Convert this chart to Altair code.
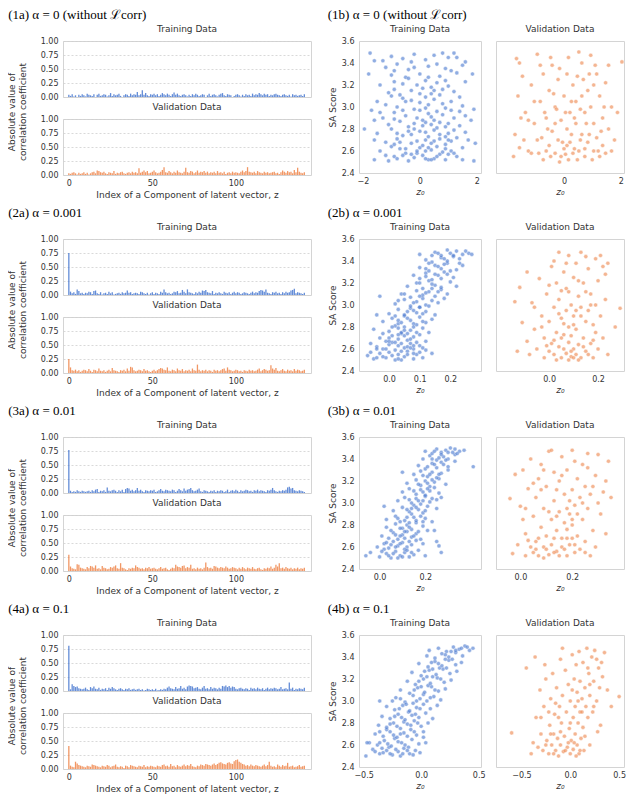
import altair as alt
import pandas as pd

BLUE = "#4878d0"
ORANGE = "#ee854a"
TXT = "#333333"

ROW_TITLES_A = ["(1a) α = 0 (without ℒcorr)", "(2a) α = 0.001", "(3a) α = 0.01", "(4a) α = 0.1"]
ROW_TITLES_B = ["(1b) α = 0 (without ℒcorr)", "(2b) α = 0.001", "(3b) α = 0.01", "(4b) α = 0.1"]

BAR_TICKS = [0, 50, 100]
Y_BAR_TICKS = [0, 0.25, 0.5, 0.75, 1.0]
Y_SA_TICKS = [2.4, 2.6, 2.8, 3.0, 3.2, 3.4, 3.6]

X_DOM_TRAIN = [[-2.14, 2.15], [-0.098, 0.30], [-0.09, 0.444], [-0.54, 0.52]]
X_DOM_VAL = [[-2.29, 2.02], [-0.217, 0.306], [-0.094, 0.40], [-0.76, 0.55]]
X_TICKS_TRAIN = [[-2, 0, 2], [0, 0.1, 0.2], [0, 0.2], [-0.5, 0, 0.5]]
X_TICKS_VAL = [[0, 2], [0, 0.2], [0, 0.2], [-0.5, 0, 0.5]]
X_FMT = ["d", ".1f", ".1f", ".1f"]

# |corr| in hundredths, component index 0..141
BAR_T1 = [4,2,5,1,3,0,4,2,5,3, 1,6,4,3,2,5,0,4,6,2, 3,5,4,1,3,7,2,5,3,4, 6,2,0,3,5,4,2,6,3,5,
          4,9,3,5,12,4,7,3,2,5, 4,6,3,5,2,4,7,5,3,6, 4,2,5,8,4,6,3,2,4,5, 3,1,4,2,5,3,6,4,2,3,
          5,4,0,3,6,2,4,5,3,1, 4,6,7,3,2,5,4,3,0,2, 4,5,3,1,4,2,5,3,4,2, 6,3,5,4,7,5,3,6,4,5,
          2,4,3,5,6,4,3,2,4,5, 3,2,4,1,5,3,4,2,3,4,2,5]
BAR_V1 = [3,2,4,5,3,1,4,2,3,5, 2,4,1,3,5,6,3,8,7,5, 4,6,3,2,5,4,3,7,2,4, 3,5,6,3,2,4,5,3,6,4,
          5,3,12,4,6,8,5,7,3,4, 6,8,5,3,4,6,9,14,5,4, 7,5,3,6,4,8,5,4,3,6, 13,5,4,7,6,3,5,8,4,6,
          5,7,4,6,3,5,4,6,3,7, 4,5,3,6,2,4,5,3,6,4, 5,4,3,6,8,5,7,14,6,5, 4,6,3,7,5,4,3,6,4,5,
          3,4,5,6,3,4,2,5,8,6, 4,7,5,6,3,9,5,13,6,4, 3,5]
BAR_T2 = [75,6,3,5,2,10,7,3,4,2, 4,3,6,5,2,7,8,3,2,5, 1,3,4,2,6,3,5,1,2,3, 4,2,5,3,4,8,4,5,2,3,
          4,3,2,6,5,3,2,4,1,3, 5,2,4,3,2,6,4,10,5,3, 4,2,3,6,5,7,3,4,9,6, 3,10,5,4,3,2,5,3,6,4,
          8,7,9,5,4,3,7,2,4,3, 5,3,2,6,4,3,5,2,4,6, 3,5,4,2,3,5,4,3,2,4, 6,3,5,4,7,9,8,6,10,4,
          3,2,5,4,6,3,4,2,5,3, 6,4,5,8,9,11,3,5,4,3, 2,4]
BAR_V2 = [25,10,5,4,6,3,5,2,4,6, 5,3,7,4,2,6,5,3,8,4, 3,5,2,4,6,3,9,5,4,3, 2,5,4,6,3,8,4,11,10,5,
          3,4,6,5,3,7,4,5,3,2, 4,6,3,5,7,9,8,6,5,10, 4,3,6,5,3,8,5,4,7,3, 5,4,6,3,8,5,4,15,6,3,
          5,4,6,3,5,4,2,6,4,5, 3,5,7,8,4,10,6,5,3,4, 6,5,3,4,2,5,4,3,6,4, 5,3,4,6,8,3,5,7,6,4,
          5,14,8,6,9,4,3,5,7,4, 3,6,4,5,3,7,4,6,5,3, 4,6]
BAR_T3 = [77,4,2,3,2,5,3,2,4,3, 2,3,4,2,5,3,6,7,2,4, 3,5,2,10,4,3,5,6,4,2, 5,3,6,2,7,9,8,4,6,3,
          5,9,4,6,3,2,5,4,3,5, 4,6,2,3,5,7,4,3,6,5, 4,3,6,5,2,4,7,5,3,8, 4,6,7,9,5,3,4,6,8,3,
          2,5,4,3,2,4,3,5,2,4, 3,5,4,2,3,6,2,4,5,3, 6,4,2,5,3,4,6,5,3,4, 2,5,4,6,3,5,4,3,2,5,
          4,6,9,5,3,2,4,3,5,4, 6,10,11,8,9,5,4,3,5,4, 3,2]
BAR_V3 = [29,8,5,4,3,12,11,6,5,4, 3,7,5,9,8,6,10,4,5,3, 9,6,5,3,4,7,6,8,10,5, 4,14,6,5,3,2,5,4,6,5,
          10,7,6,4,5,3,6,5,7,4, 5,6,4,3,5,7,4,5,6,3, 2,4,6,5,11,8,7,6,9,10, 5,7,6,11,4,5,3,6,4,5,
          3,6,15,7,5,6,4,9,8,6, 5,7,6,5,8,6,4,5,7,6, 5,3,6,4,7,5,3,6,5,4, 7,4,3,5,6,3,2,5,4,6,
          5,8,4,6,11,8,14,5,6,4, 7,5,4,6,3,5,4,6,3,5, 4,6]
BAR_T4 = [81,3,12,9,7,8,5,4,3,4, 6,3,2,7,5,8,4,3,6,2, 4,3,5,2,6,4,7,5,3,2, 4,5,3,2,4,3,5,2,3,4,
          2,3,4,2,3,1,2,4,3,2, 3,2,4,1,2,3,2,4,3,6, 8,5,4,3,7,4,5,9,4,6, 3,8,10,9,8,5,6,7,4,3,
          6,9,4,5,3,7,4,6,5,3, 6,4,9,8,10,7,9,6,8,7, 4,3,5,6,4,3,5,4,2,6, 4,5,3,6,4,3,5,2,4,6,
          3,5,4,6,5,3,4,7,3,4, 5,3,15,4,6,2,4,3,5,4, 3,6]
BAR_V4 = [41,6,4,3,13,10,7,6,5,4, 3,6,5,4,8,7,6,5,4,3, 6,5,4,7,6,3,5,6,8,4, 3,5,4,2,6,5,3,7,6,5,
          4,3,6,5,4,7,3,5,4,6, 5,4,3,6,5,4,7,8,5,6, 4,9,5,6,3,7,5,4,6,8, 5,7,6,9,5,4,3,6,5,8,
          7,6,9,8,7,6,8,10,7,9, 11,12,10,9,8,11,12,10,9,14, 16,17,13,11,9,8,6,7,5,8, 6,5,7,6,5,4,6,8,5,7,
          13,6,4,5,3,8,6,4,7,5, 6,11,4,5,6,3,4,5,7,4, 5,6]

# (z0, SA score) pairs
TRAIN1 = [(-1.6,2.52),(-0.9,2.55),(-0.4,2.51),(0.1,2.56),(0.5,2.53),(0.9,2.52),(1.3,2.55),(-0.2,2.54),(0.7,2.57),(1.9,2.51),(-1.1,2.51),(0.3,2.52),
          (-1.4,2.6),(-0.7,2.62),(-0.1,2.58),(0.4,2.61),(1.1,2.6),(1.5,2.63),(-1.0,2.64),(0.0,2.63),(0.8,2.59),(-0.5,2.58),(0.6,2.64),
          (-1.2,2.68),(-0.3,2.67),(0.2,2.7),(0.9,2.66),(1.95,2.67),(-0.8,2.71),(0.5,2.69),(1.3,2.72),(-1.6,2.7),(0.1,2.65),
          (-1.5,2.76),(-0.6,2.74),(0.0,2.78),(0.7,2.75),(1.2,2.79),(-1.0,2.8),(0.3,2.73),(1.6,2.77),(-0.2,2.8),(0.9,2.73),
          (-1.95,2.8),(-1.1,2.84),(-0.4,2.82),(0.2,2.86),(0.6,2.81),(1.0,2.85),(1.4,2.83),(-0.7,2.87),(0.4,2.84),(1.8,2.88),
          (-1.3,2.9),(-0.5,2.92),(0.1,2.88),(0.8,2.93),(1.2,2.9),(-0.9,2.95),(0.3,2.94),(1.6,2.92),(-0.1,2.9),
          (-1.7,2.97),(-0.8,3.0),(-0.2,2.98),(0.3,3.02),(0.9,2.99),(1.5,3.01),(-1.2,3.02),(0.6,2.96),(1.9,2.98),
          (-1.5,3.05),(-0.6,3.08),(0.0,3.04),(0.5,3.07),(1.1,3.05),(-1.0,3.1),(0.2,3.09),(1.4,3.09),
          (-1.1,3.13),(-0.3,3.15),(0.4,3.12),(0.8,3.16),(-0.7,3.11),(1.2,3.14),(0.1,3.17),
          (-1.4,3.2),(-0.9,3.23),(-0.1,3.2),(0.6,3.22),(1.0,3.19),(1.6,3.23),(0.2,3.24),
          (-1.8,3.3),(-0.5,3.27),(0.0,3.3),(0.7,3.28),(1.3,3.31),(-1.0,3.29),(1.85,3.3),
          (-1.2,3.36),(-0.4,3.34),(0.3,3.37),(0.9,3.35),(1.5,3.38),(-0.8,3.39),(1.1,3.33),
          (-1.75,3.49),(-1.6,3.42),(-1.0,3.46),(-0.6,3.44),(-0.2,3.48),(0.2,3.43),(0.5,3.47),(1.0,3.45),(1.2,3.49),(1.6,3.41),(-0.3,3.41),(0.8,3.49),
          (-0.6,2.56),(0.2,2.6),(-0.3,2.75),(0.5,2.88),(-0.5,3.05),(1.7,2.7),(-1.4,2.95),(0.4,2.52),(1.2,2.58),(-0.9,2.66),
          (0.0,2.97),(0.7,3.11),(-1.3,3.42),(1.4,2.96),(-0.1,2.6),(0.9,2.82),(-0.4,3.26),(0.4,3.18),(-1.6,2.88),(1.1,2.69),
          (-0.8,2.53),(-0.3,2.57),(0.2,2.53),(0.6,2.55),(1.0,2.57),(-0.5,2.62),(0.3,2.63),(0.9,2.62),(-1.2,2.56),(1.5,2.52),
          (-0.7,2.68),(-0.1,2.69),(0.4,2.67),(0.7,2.71),(1.0,2.7),(-0.4,2.78),(0.2,2.77),(0.5,2.79),(-0.8,2.76),(1.0,2.76),
          (-0.2,2.85),(0.1,2.83),(0.7,2.86),(-0.9,2.89),(0.4,2.91),(-0.6,2.97),(0.2,2.99),(1.1,2.97),(-0.3,3.06),(0.8,3.03),
          (-0.9,3.16),(0.0,3.12),(0.5,3.15),(-0.6,3.21),(0.3,3.27),(0.9,3.24),(-0.2,3.36),(0.6,3.39),(-0.9,3.33),(1.3,3.45)]
VAL1 = [(-1.6,3.44),(-1.5,3.4),(-1.4,3.28),(-1.55,3.1),(-1.65,2.75),(-1.7,2.55),(-1.5,2.63),(-1.3,2.95),(-1.2,2.6),(-1.1,3.2),
        (-1.0,2.85),(-0.9,3.48),(-0.9,2.7),(-0.8,3.05),(-0.7,2.52),(-0.7,3.3),(-0.6,2.9),(-0.5,2.65),(-0.5,3.15),(-0.4,2.78),
        (-0.4,3.38),(-0.3,2.58),(-0.3,3.0),(-0.2,2.7),(-0.2,3.25),(-0.1,2.55),(-0.1,2.88),(0.0,3.1),(0.0,2.62),(0.1,2.8),
        (0.1,3.3),(0.15,2.52),(0.2,2.95),(0.2,2.68),(0.3,3.2),(0.3,2.58),(0.4,2.85),(0.4,3.05),(0.5,3.5),(0.5,2.6),
        (0.6,2.75),(0.6,3.4),(0.7,2.95),(0.7,2.55),(0.8,3.15),(0.8,2.68),(0.9,3.0),(0.9,3.47),(1.0,2.6),(1.0,2.85),
        (1.1,3.3),(1.1,2.72),(1.2,2.55),(1.2,3.1),(1.3,2.9),(1.3,2.65),(1.4,3.22),(1.4,2.58),(1.5,2.8),(1.6,3.0),
        (1.7,2.7),(1.95,3.41),(1.8,2.95),(1.5,3.38),(-1.2,2.88),(-0.6,2.6),(0.25,2.75),(-0.05,2.68),(0.35,2.62),(0.05,2.95),
        (-0.35,3.12),(0.65,3.25),(1.05,3.38),(-0.85,2.58),(0.95,2.52),(-1.35,2.7),(0.45,2.52),(-0.15,2.5),(0.75,2.85),(1.25,2.78),
        (-0.55,2.8),(0.55,2.98),(-1.0,3.05),(0.15,3.45),(-0.25,2.98),(1.15,2.6),(0.85,3.3),(-0.75,2.72),
        (-0.45,2.55),(0.05,2.57),(0.55,2.7),(-0.65,2.95),(0.25,3.05),(0.85,2.75),(-0.15,3.35),(0.45,3.28),(1.35,3.0),(-1.1,2.58),
        (0.7,2.62),(-0.3,2.85),(0.1,2.65),(1.0,3.2),(-0.8,3.38),(0.35,2.9),(-0.45,3.45),(1.6,2.6),(0.6,3.1),(-1.45,2.9)]
TRAIN2 = [(-0.07,2.54),(-0.05,2.51),(-0.03,2.56),(-0.01,2.52),(0.0,2.57),(0.02,2.5),(0.03,2.55),(0.05,2.53),(0.06,2.58),(0.08,2.51),(0.09,2.55),(0.11,2.52),(0.04,2.5),(-0.02,2.53),
          (-0.04,2.62),(-0.02,2.6),(0.0,2.64),(0.02,2.59),(0.03,2.63),(0.05,2.61),(0.07,2.65),(0.08,2.6),(0.1,2.63),(0.12,2.59),(0.01,2.66),(0.06,2.62),
          (-0.03,2.7),(-0.01,2.67),(0.01,2.72),(0.03,2.69),(0.04,2.74),(0.06,2.68),(0.08,2.71),(0.1,2.73),(0.12,2.67),(0.02,2.66),(0.05,2.72),
          (-0.05,2.78),(0.0,2.76),(0.02,2.81),(0.04,2.75),(0.05,2.8),(0.07,2.77),(0.09,2.82),(0.11,2.79),(0.13,2.75),(0.03,2.79),(0.06,2.74),
          (-0.02,2.85),(0.01,2.88),(0.03,2.83),(0.05,2.9),(0.07,2.86),(0.08,2.83),(0.1,2.89),(0.12,2.84),(0.14,2.87),(0.06,2.88),
          (0.0,2.92),(0.03,2.96),(0.05,2.91),(0.07,2.97),(0.09,2.93),(0.1,2.98),(0.12,2.94),(0.15,2.91),(0.08,2.95),(-0.03,3.08),
          (0.02,3.01),(0.05,3.05),(0.07,2.99),(0.09,3.03),(0.11,3.06),(0.12,3.0),(0.14,3.04),(0.16,3.02),(0.1,2.98),(0.18,3.06),
          (0.04,3.1),(0.07,3.07),(0.09,3.13),(0.11,3.09),(0.13,3.12),(0.15,3.08),(0.17,3.14),(0.12,3.11),(0.19,3.1),
          (0.06,3.17),(0.09,3.2),(0.11,3.15),(0.13,3.22),(0.15,3.18),(0.17,3.16),(0.2,3.21),(0.14,3.19),(0.22,3.17),
          (0.08,3.27),(0.1,3.24),(0.12,3.29),(0.14,3.23),(0.16,3.27),(0.18,3.3),(0.21,3.25),(0.15,3.28),
          (0.1,3.34),(0.13,3.31),(0.15,3.36),(0.17,3.33),(0.19,3.38),(0.22,3.32),(0.16,3.35),(0.24,3.36),
          (0.12,3.41),(0.14,3.39),(0.17,3.43),(0.19,3.4),(0.21,3.44),(0.23,3.38),(0.18,3.42),
          (0.1,3.46),(0.15,3.48),(0.17,3.45),(0.19,3.5),(0.2,3.47),(0.22,3.49),(0.24,3.46),(0.26,3.47),(0.27,3.46),(0.21,3.45),
          (-0.06,2.65),(0.0,2.7),(0.04,2.58),(0.09,2.66),(-0.04,2.91),(0.08,2.56),(0.03,2.86),(0.07,2.61),(0.14,2.56),(0.12,3.26),(0.05,3.1),(-0.04,2.6),
          (-0.06,2.57),(-0.04,2.52),(0.01,2.54),(0.03,2.51),(0.06,2.55),(0.1,2.57),(-0.01,2.6),(0.04,2.65),(0.08,2.63),(0.11,2.61),
          (-0.02,2.74),(0.0,2.67),(0.03,2.73),(0.07,2.69),(0.09,2.75),(0.01,2.8),(0.05,2.77),(0.08,2.8),(0.11,2.85),(0.04,2.84),
          (0.06,2.94),(0.11,2.92),(0.02,2.9),(0.13,2.99),(0.08,3.02),(0.03,3.04),(0.1,3.08),(0.14,3.15),(0.16,3.12),(0.1,3.2),
          (0.17,3.24),(0.12,3.33),(0.19,3.28),(0.14,3.45),(0.18,3.37),(0.23,3.42),(0.2,3.31),(0.16,3.47),(0.25,3.49),(0.13,3.38)]
VAL2 = [(-0.14,3.03),(-0.12,3.16),(-0.13,2.58),(-0.11,2.84),(-0.09,2.67),(-0.08,2.55),(-0.07,3.02),(-0.06,2.78),(-0.05,2.6),(-0.04,3.24),
        (-0.03,2.9),(-0.02,2.52),(-0.02,2.7),(-0.01,3.1),(0.0,2.58),(0.0,2.85),(0.01,3.35),(0.01,2.65),(0.02,2.98),(0.02,2.55),
        (0.03,3.2),(0.03,2.75),(0.04,2.62),(0.04,3.05),(0.04,3.48),(0.05,2.52),(0.05,2.88),(0.05,2.7),(0.06,3.3),(0.06,2.6),
        (0.07,2.95),(0.07,2.56),(0.07,3.15),(0.08,2.8),(0.08,2.66),(0.08,3.45),(0.09,2.53),(0.09,3.0),(0.09,2.72),(0.1,3.25),
        (0.1,2.6),(0.1,2.9),(0.11,2.55),(0.11,3.38),(0.11,2.78),(0.12,3.08),(0.12,2.64),(0.13,2.98),(0.13,2.52),(0.13,3.48),
        (0.14,2.7),(0.14,3.2),(0.15,2.85),(0.15,2.58),(0.16,3.33),(0.16,2.95),(0.17,2.65),(0.17,3.1),(0.18,2.52),(0.18,2.82),
        (0.19,3.42),(0.19,3.0),(0.2,2.6),(0.2,3.22),(0.21,2.9),(0.22,3.35),(0.22,2.7),(0.23,3.05),(0.24,3.38),(0.24,2.55),
        (0.27,2.8),(0.29,2.97),(0.03,2.5),(0.06,2.83),(0.12,2.5),(0.02,3.4),(-0.01,2.63),(0.15,3.44),(0.08,3.12),(0.18,2.68),
        (0.1,2.52),(0.05,3.13),(-0.03,2.8),
        (0.06,2.73),(0.09,2.58),(0.11,2.95),(0.14,2.62),(0.04,2.92),(0.17,3.0),(0.12,3.22),(0.07,3.38),(0.19,2.75),(0.0,3.18),
        (0.21,3.45),(-0.06,2.98),(0.15,3.12),(0.02,2.68),(0.1,2.82),(0.16,2.55),(0.23,3.28),(-0.09,3.3),(0.13,2.9),(0.08,2.5)]
TRAIN3 = [(-0.06,2.52),(-0.04,2.55),(0.0,2.51),(0.03,2.54),(0.05,2.5),(0.07,2.56),(0.09,2.52),(0.11,2.55),(0.13,2.51),(0.15,2.53),(0.17,2.57),(0.02,2.58),(0.08,2.5),(0.2,2.52),
          (-0.01,2.6),(0.02,2.63),(0.04,2.59),(0.06,2.65),(0.08,2.61),(0.1,2.64),(0.12,2.6),(0.14,2.62),(0.16,2.66),(0.05,2.62),(0.11,2.58),(0.19,2.63),
          (0.01,2.7),(0.04,2.68),(0.06,2.73),(0.08,2.67),(0.1,2.71),(0.12,2.74),(0.14,2.69),(0.16,2.72),(0.18,2.67),(0.09,2.7),(0.25,2.65),
          (0.03,2.78),(0.05,2.75),(0.07,2.81),(0.1,2.77),(0.12,2.8),(0.14,2.76),(0.16,2.82),(0.19,2.79),(0.21,2.75),(0.11,2.74),
          (0.03,2.85),(0.07,2.88),(0.09,2.83),(0.12,2.87),(0.14,2.9),(0.16,2.84),(0.18,2.88),(0.2,2.86),(0.23,2.83),(0.13,2.82),
          (0.02,2.97),(0.06,2.93),(0.1,2.96),(0.13,2.92),(0.15,2.98),(0.17,2.94),(0.19,2.91),(0.21,2.97),(0.25,2.95),(0.14,2.95),
          (0.08,3.02),(0.11,3.05),(0.14,3.0),(0.16,3.04),(0.18,2.99),(0.2,3.06),(0.22,3.01),(0.25,3.03),(0.27,3.05),(0.17,3.02),
          (0.1,3.1),(0.13,3.13),(0.16,3.08),(0.18,3.12),(0.2,3.07),(0.22,3.11),(0.24,3.14),(0.26,3.09),(0.19,3.1),
          (0.12,3.18),(0.16,3.21),(0.18,3.16),(0.2,3.2),(0.22,3.15),(0.24,3.19),(0.26,3.22),(0.29,3.17),(0.21,3.18),
          (0.15,3.26),(0.18,3.29),(0.21,3.24),(0.23,3.28),(0.25,3.23),(0.27,3.27),(0.3,3.3),(0.22,3.26),
          (0.17,3.34),(0.2,3.31),(0.23,3.36),(0.25,3.32),(0.27,3.37),(0.3,3.33),(0.24,3.35),(0.33,3.38),
          (0.19,3.4),(0.22,3.43),(0.25,3.39),(0.28,3.42),(0.3,3.4),(0.33,3.44),(0.26,3.41),
          (0.2,3.47),(0.23,3.45),(0.25,3.49),(0.27,3.46),(0.29,3.48),(0.31,3.5),(0.33,3.49),(0.35,3.47),(0.37,3.48),(0.32,3.46),
          (0.41,3.33),(0.26,2.61),(0.27,2.55),(0.1,3.28),(0.24,2.75),
          (0.01,2.56),(0.04,2.52),(0.06,2.54),(0.1,2.51),(0.12,2.57),(0.14,2.55),(0.07,2.6),(0.09,2.63),(0.13,2.65),(0.03,2.64),
          (0.07,2.71),(0.11,2.68),(0.15,2.7),(0.09,2.77),(0.13,2.78),(0.17,2.74),(0.08,2.86),(0.11,2.84),(0.15,2.87),(0.19,2.83),
          (0.12,2.94),(0.16,2.96),(0.2,2.93),(0.13,3.03),(0.19,3.02),(0.23,3.04),(0.15,3.11),(0.21,3.13),(0.17,3.17),(0.23,3.21),
          (0.19,3.25),(0.26,3.26),(0.21,3.33),(0.28,3.35),(0.23,3.4),(0.27,3.44),(0.3,3.46),(0.34,3.45),(0.24,3.47),(0.29,3.39)]
VAL3 = [(-0.04,3.04),(-0.03,2.54),(-0.02,3.26),(-0.01,2.62),(0.0,2.97),(0.01,2.85),(0.01,3.3),(0.02,2.52),(0.02,2.72),(0.03,3.13),
        (0.04,2.6),(0.04,3.4),(0.05,2.88),(0.05,2.55),(0.06,3.05),(0.06,2.65),(0.07,3.22),(0.07,2.52),(0.08,2.78),(0.08,3.35),
        (0.09,2.6),(0.09,2.95),(0.1,2.7),(0.1,3.15),(0.11,2.53),(0.11,3.47),(0.12,2.85),(0.12,2.62),(0.13,3.02),(0.13,3.28),
        (0.14,2.56),(0.14,2.75),(0.15,2.92),(0.15,3.2),(0.16,2.6),(0.16,3.42),(0.17,2.82),(0.17,3.08),(0.18,2.52),(0.18,2.68),
        (0.18,3.3),(0.19,2.9),(0.19,2.62),(0.2,3.12),(0.2,2.8),(0.2,3.48),(0.21,2.55),(0.21,2.98),(0.22,3.22),(0.22,2.7),
        (0.23,3.05),(0.23,2.58),(0.24,3.35),(0.24,2.85),(0.25,2.65),(0.25,3.15),(0.26,2.95),(0.26,3.32),(0.27,2.52),(0.27,3.08),
        (0.28,2.75),(0.29,3.25),(0.29,2.6),(0.3,3.44),(0.31,2.9),(0.32,3.1),(0.33,3.2),(0.34,3.38),(0.35,3.05),(0.33,2.72),
        (0.12,3.48),(0.06,2.58),(0.09,2.5),(0.15,2.52),(0.17,2.58),(0.03,2.66),(0.22,2.9),(0.19,3.02),(0.14,3.12),(0.26,3.45),
        (0.08,3.12),(0.13,2.68),
        (0.1,2.58),(0.13,2.55),(0.16,2.68),(0.21,2.62),(0.07,2.68),(0.18,2.95),(0.2,2.85),(0.11,2.92),(0.24,3.0),(0.16,3.25),
        (0.21,3.38),(0.05,3.18),(0.28,3.15),(0.09,3.3),(0.18,2.76),(0.25,2.55),(0.14,2.88),(0.3,3.0),(0.02,2.95),(0.2,2.68)]
TRAIN4 = [(-0.48,2.5),(-0.42,2.56),(-0.36,2.52),(-0.3,2.55),(-0.25,2.51),(-0.2,2.54),(-0.15,2.57),(-0.1,2.52),(-0.05,2.55),(-0.01,2.53),(-0.28,2.58),(-0.18,2.5),(-0.33,2.53),
          (-0.45,2.62),(-0.38,2.6),(-0.32,2.64),(-0.26,2.59),(-0.2,2.63),(-0.14,2.6),(-0.08,2.65),(-0.02,2.61),(0.04,2.62),(-0.23,2.66),(-0.11,2.58),
          (-0.4,2.7),(-0.33,2.68),(-0.27,2.72),(-0.21,2.67),(-0.15,2.71),(-0.09,2.74),(-0.04,2.69),(0.02,2.72),(-0.18,2.7),(-0.3,2.74),
          (-0.37,2.78),(-0.3,2.76),(-0.24,2.8),(-0.18,2.75),(-0.12,2.79),(-0.06,2.82),(0.0,2.77),(0.06,2.8),(-0.15,2.81),(-0.21,2.77),
          (-0.34,2.86),(-0.27,2.84),(-0.2,2.88),(-0.14,2.83),(-0.08,2.87),(-0.02,2.85),(0.04,2.89),(0.1,2.84),(-0.11,2.9),
          (-0.3,2.95),(-0.23,2.92),(-0.16,2.96),(-0.1,2.91),(-0.04,2.94),(0.02,2.97),(0.08,2.93),(0.14,2.96),(-0.07,2.98),
          (-0.36,3.0),(-0.22,3.03),(-0.14,2.99),(-0.07,3.05),(-0.01,3.02),(0.05,3.0),(0.11,3.04),(0.17,3.01),(0.02,3.06),
          (-0.18,3.1),(-0.1,3.07),(-0.03,3.12),(0.03,3.08),(0.09,3.13),(0.15,3.09),(0.21,3.11),(0.06,3.14),
          (-0.12,3.18),(-0.05,3.15),(0.02,3.2),(0.08,3.16),(0.14,3.21),(0.2,3.17),(0.26,3.19),(0.1,3.22),
          (-0.08,3.26),(0.0,3.23),(0.07,3.28),(0.13,3.24),(0.19,3.29),(0.25,3.25),(0.31,3.27),(0.16,3.3),
          (-0.02,3.34),(0.06,3.31),(0.12,3.36),(0.18,3.32),(0.24,3.37),(0.3,3.33),(0.35,3.35),(0.21,3.38),
          (0.05,3.41),(0.12,3.39),(0.18,3.43),(0.24,3.4),(0.3,3.44),(0.36,3.41),(0.27,3.38),
          (0.07,3.46),(0.15,3.48),(0.22,3.45),(0.28,3.49),(0.33,3.47),(0.38,3.5),(0.42,3.46),(0.45,3.48),(0.3,3.46),(0.4,3.49),
          (-0.47,2.62),(-0.25,3.0),(0.02,2.67),
          (-0.4,2.54),(-0.34,2.57),(-0.27,2.52),(-0.22,2.56),(-0.16,2.52),(-0.12,2.55),(-0.07,2.51),(-0.36,2.62),(-0.29,2.61),(-0.17,2.62),
          (-0.24,2.69),(-0.12,2.68),(-0.06,2.72),(-0.36,2.72),(-0.27,2.79),(-0.09,2.78),(-0.03,2.8),(-0.23,2.86),(-0.17,2.85),(-0.05,2.88),
          (-0.19,2.93),(-0.13,2.97),(-0.01,2.93),(-0.18,3.02),(-0.04,3.0),(0.08,3.03),(-0.06,3.1),(0.0,3.13),(0.12,3.1),(-0.02,3.18),
          (0.05,3.22),(0.17,3.2),(0.03,3.27),(0.1,3.29),(0.22,3.3),(0.09,3.35),(0.15,3.34),(0.21,3.42),(0.26,3.45),(0.35,3.48)]
VAL4 = [(-0.6,2.71),(-0.45,3.3),(0.5,3.04),(-0.4,2.52),(-0.38,2.62),(-0.35,2.85),(-0.33,2.58),(-0.31,3.1),(-0.3,2.7),(-0.28,2.55),
        (-0.27,2.95),(-0.25,3.2),(-0.24,2.64),(-0.22,2.52),(-0.21,2.78),(-0.2,3.02),(-0.19,2.6),(-0.18,3.25),(-0.17,2.7),(-0.16,2.88),
        (-0.15,2.55),(-0.14,3.12),(-0.13,2.66),(-0.12,2.5),(-0.11,2.95),(-0.1,3.38),(-0.1,2.6),(-0.09,2.8),(-0.08,3.05),(-0.07,2.54),
        (-0.06,2.68),(-0.05,3.28),(-0.04,2.9),(-0.03,2.58),(-0.02,3.15),(-0.01,2.75),(0.0,2.52),(0.0,3.0),(0.01,2.64),(0.02,3.42),
        (0.03,2.85),(0.03,2.56),(0.04,3.2),(0.05,2.7),(0.05,2.95),(0.06,3.33),(0.07,2.6),(0.07,3.08),(0.08,2.8),(0.09,2.52),
        (0.09,3.45),(0.1,2.9),(0.1,3.18),(0.11,2.66),(0.12,3.02),(0.13,3.35),(0.13,2.76),(0.14,2.55),(0.15,3.12),(0.16,2.95),
        (0.17,3.48),(0.18,2.85),(0.19,3.25),(0.2,3.05),(0.2,2.6),(0.22,3.4),(0.23,2.9),(0.24,3.18),(0.25,3.46),(0.27,3.0),
        (0.28,2.72),(0.29,3.3),(0.3,3.12),(0.31,2.78),(0.33,3.22),(0.35,3.44),(0.38,3.1),(0.42,2.95),(-0.36,3.4),(-0.26,3.33),
        (-0.08,3.48),(-0.22,2.9),(0.06,2.5),(-0.17,2.52),
        (-0.2,2.7),(-0.05,2.55),(0.0,2.8),(-0.12,2.85),(0.04,2.62),(0.12,2.9),(-0.25,2.6),(0.08,3.0),(0.15,2.68),(0.2,3.15),
        (-0.15,2.98),(0.27,3.38),(0.02,3.1),(-0.1,2.72),(0.18,3.3),(0.1,2.55),(-0.3,2.85),(0.24,2.95),(-0.02,2.62),(0.32,3.35)]

BARS_T = [BAR_T1, BAR_T2, BAR_T3, BAR_T4]
BARS_V = [BAR_V1, BAR_V2, BAR_V3, BAR_V4]
SC_T = [TRAIN1, TRAIN2, TRAIN3, TRAIN4]
SC_V = [VAL1, VAL2, VAL3, VAL4]
SC_SPACING = [13, 13, 13, 9]

BAR_W, BAR_H = 248, 56
SC_W_T, SC_W_V, SC_H = 122, 128, 132


def bar_panel(vals, color, title, bottom):
    df = pd.DataFrame({"component": list(range(len(vals))), "corr": [v / 100 for v in vals]})
    if bottom:
        xaxis = alt.Axis(values=BAR_TICKS, format="d", title="Index of a Component of latent vector, z",
                         labelPadding=4, titlePadding=3)
    else:
        xaxis = None
    return (
        alt.Chart(df, title=alt.TitleParams(title, offset=3))
        .mark_bar(size=1.3, color=color, opacity=0.85)
        .encode(
            x=alt.X("component:Q", scale=alt.Scale(domain=[-0.5, 142], nice=False, zero=False), axis=xaxis),
            y=alt.Y("corr:Q", scale=alt.Scale(domain=[0, 1], nice=False),
                    axis=alt.Axis(values=Y_BAR_TICKS, format=".2f", title=None, grid=True,
                                  gridDash=[2, 2], gridColor="#cfcfcf", gridWidth=0.8, labelPadding=5)),
        )
        .properties(width=BAR_W, height=BAR_H)
    )


def scatter_panel(pts, color, title, dom, ticks, fmt, show_y, width):
    df = pd.DataFrame(pts, columns=["z0", "sa"])
    yaxis = alt.Axis(values=Y_SA_TICKS, format=".1f", title="SA Score", labelPadding=5, titlePadding=4) if show_y else None
    # the training panel's top tick label pushes its title up by ~4px; match that on the validation panel
    title_offset = 3 if show_y else 7
    return (
        alt.Chart(df, title=alt.TitleParams(title, offset=title_offset))
        .mark_circle(size=17, opacity=0.6, color=color, stroke="white", strokeWidth=0.4)
        .encode(
            x=alt.X("z0:Q", scale=alt.Scale(domain=dom, nice=False, zero=False),
                    axis=alt.Axis(values=ticks, format=fmt, title="z₀", labelPadding=4, titlePadding=2,
                                  titleFontStyle="italic")),
            y=alt.Y("sa:Q", scale=alt.Scale(domain=[2.4, 3.6], nice=False, zero=False), axis=yaxis),
        )
        .properties(width=width, height=SC_H)
    )


rows = []
for r in range(4):
    bt = bar_panel(BARS_T[r], BLUE, "Training Data", False)
    bv = bar_panel(BARS_V[r], ORANGE, "Validation Data", True)
    bars = alt.vconcat(
        bt, bv, spacing=0,
        title=alt.TitleParams(["Absolute value of", "correlation coefficient"], orient="left", anchor="middle",
                              offset=12, fontSize=9, lineHeight=10.5, font="DejaVu Sans", fontWeight="normal", color=TXT),
    )
    left = alt.vconcat(
        bars,
        title=alt.TitleParams(ROW_TITLES_A[r], anchor="start", font="Liberation Serif", fontSize=13,
                              fontWeight="normal", color="black", offset=3),
    )
    st = scatter_panel(SC_T[r], BLUE, "Training Data", X_DOM_TRAIN[r], X_TICKS_TRAIN[r], X_FMT[r], True, SC_W_T)
    sv = scatter_panel(SC_V[r], ORANGE, "Validation Data", X_DOM_VAL[r], X_TICKS_VAL[r], X_FMT[r], False, SC_W_V)
    right = alt.hconcat(
        st, sv, spacing=SC_SPACING[r],
        title=alt.TitleParams(ROW_TITLES_B[r], anchor="start", font="Liberation Serif", fontSize=13,
                              fontWeight="normal", color="black", offset=3),
    )
    rows.append(alt.hconcat(left, right, spacing=15))

chart = (
    alt.vconcat(*rows, spacing=6)
    .properties(padding={"left": 0, "top": 0, "right": 2, "bottom": 2})
    .configure_view(stroke="#d4d4d4", strokeWidth=1)
    .configure_axis(labelFont="DejaVu Sans", labelFontSize=8, labelColor=TXT, titleFont="DejaVu Sans",
                    titleFontSize=9, titleFontWeight="normal", titleColor=TXT, ticks=False, domain=False, grid=False)
    .configure_title(font="DejaVu Sans", fontSize=9, fontWeight="normal", color=TXT, offset=3)
)

chart.save("out.html", embed_options={"renderer": "svg", "actions": False})
